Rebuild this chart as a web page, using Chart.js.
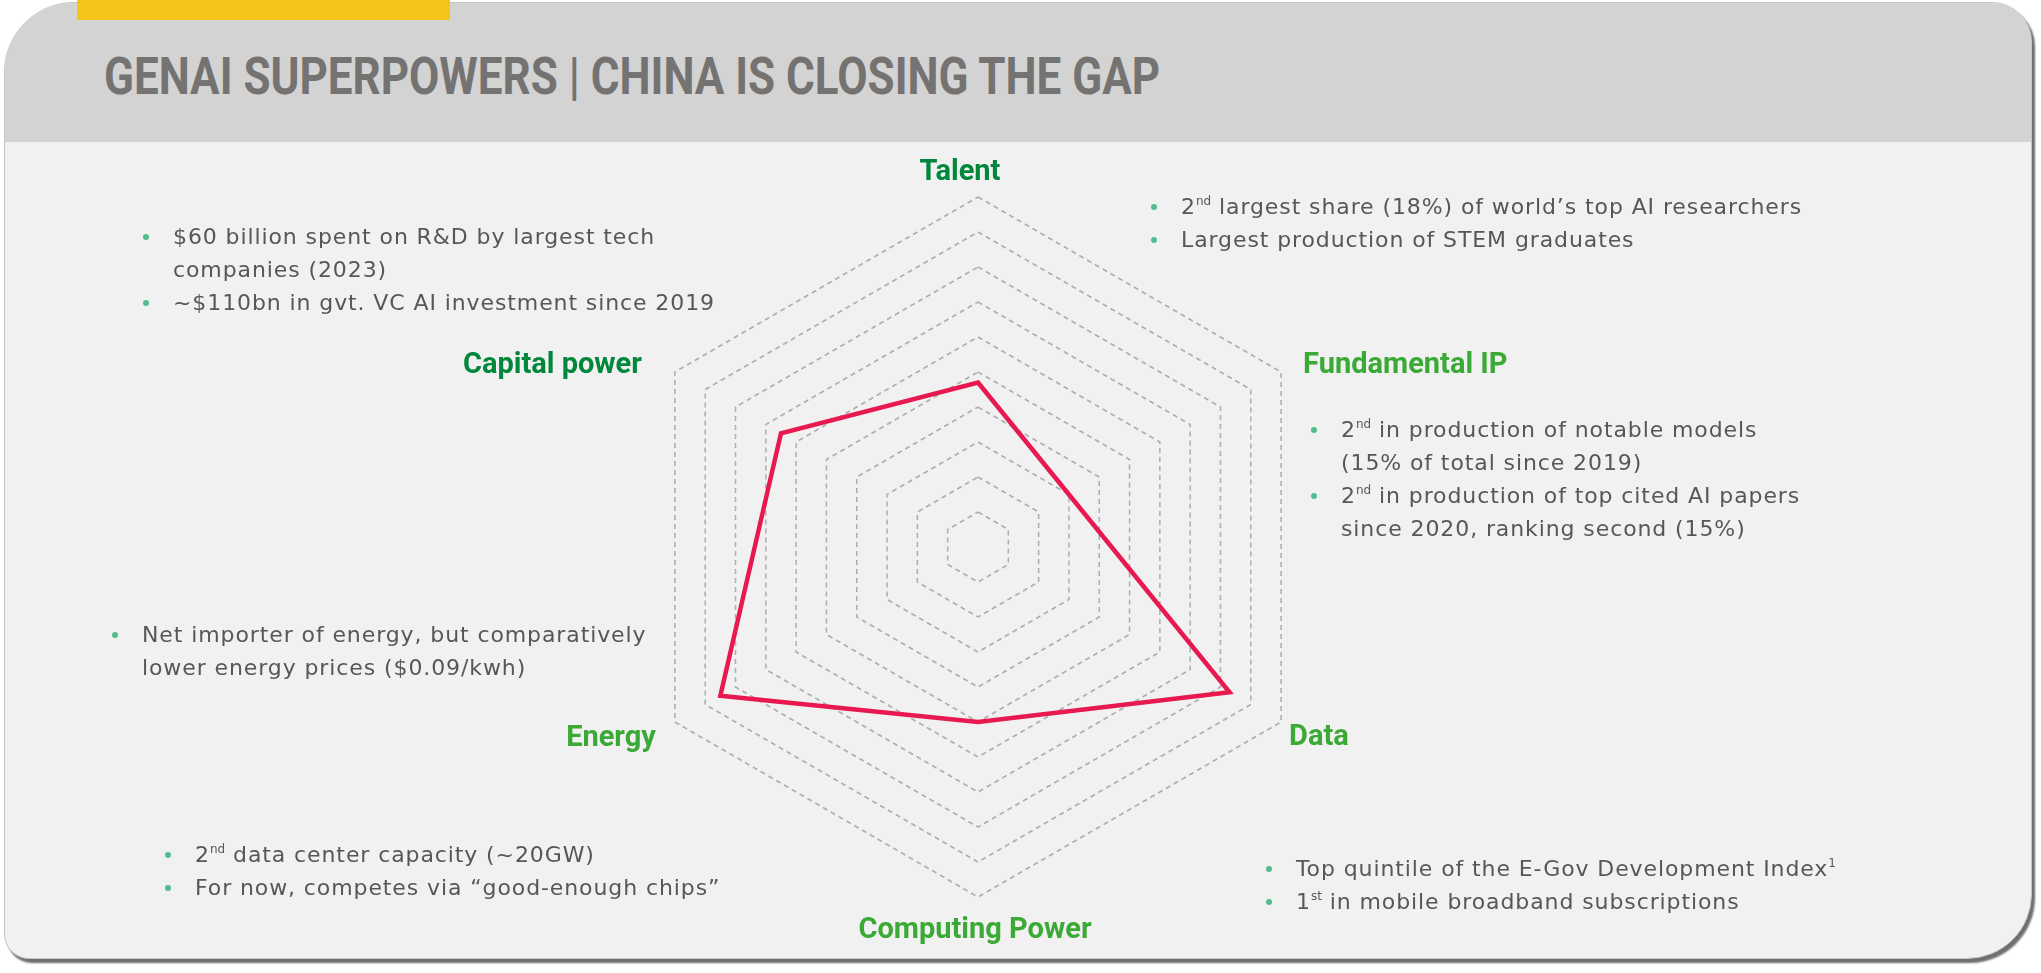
<!DOCTYPE html>
<html>
<head>
<meta charset="utf-8">
<title>GenAI superpowers</title>
<script src="https://cdn.jsdelivr.net/npm/chart.js@4.4.1/dist/chart.umd.min.js"></script>
<style>
    html, body { margin: 0; padding: 0; background: #ffffff; width: 2041px; height: 973px; overflow: hidden; }
    #panel {
        position: absolute; left: 4px; top: 2px; width: 2026px; height: 955px;
        background: #f1f1f1; border: 1px solid #c4c4c4;
        border-radius: 70px 40px 65px 25px;
        box-shadow: 3px 4px 2px #6f6f6f;
        overflow: hidden;
    }
    #header { position: absolute; left: 0; top: 0; width: 100%; height: 139px; background: #d3d3d3; }
    #yellow { position: absolute; left: 77px; top: 0; width: 373px; height: 20px; background: #f5c419; }
    #title {
        position: absolute; left: 99px; top: 48px; white-space: nowrap;
        font: 700 51px/51px Roboto, sans-serif; color: #747372;
        transform-origin: 0 50%;
    }
    #chart { position: absolute; left: 0; top: 0; }
    .note {
        position: absolute; font-family: "DejaVu Sans", sans-serif; font-size: 22px;
        letter-spacing: 0.9px; color: #575757; line-height: 33px; white-space: nowrap;
    }
    .note p { margin: 0; position: relative; }
    .note p::before {
        content: ""; position: absolute; left: -30px; top: 14px;
        width: 6px; height: 6px; border-radius: 50%; background: #52bd8c;
    }
    .note sup { font-size: 12px; line-height: 0; vertical-align: 9px; letter-spacing: 0; }
</style>
</head>
<body>
<div id="panel">
    <div id="header"></div>
    <div id="title">GENAI SUPERPOWERS | CHINA IS CLOSING THE GAP</div>
</div>
<div id="yellow"></div>

<canvas id="chart" width="2041" height="973"></canvas>

<!-- notes beside each axis -->
<div class="note" style="left:173px; top:220px;">
    <p>$60 billion spent on R&amp;D by largest tech<br>companies (2023)</p>
    <p>~$110bn in gvt. VC AI investment since 2019</p>
</div>
<div class="note" style="left:1181px; top:190px;">
    <p>2<sup>nd</sup> largest share (18%) of world’s top AI researchers</p>
    <p>Largest production of STEM graduates</p>
</div>
<div class="note" style="left:1341px; top:413px;">
    <p>2<sup>nd</sup> in production of notable models<br>(15% of total since 2019)</p>
    <p>2<sup>nd</sup> in production of top cited AI papers<br>since 2020, ranking second (15%)</p>
</div>
<div class="note" style="left:142px; top:618px;">
    <p>Net importer of energy, but comparatively<br>lower energy prices ($0.09/kwh)</p>
</div>
<div class="note" style="left:195px; top:838px;">
    <p>2<sup>nd</sup> data center capacity (~20GW)</p>
    <p>For now, competes via “good-enough chips”</p>
</div>
<div class="note" style="left:1296px; top:852px;">
    <p>Top quintile of the E-Gov Development Index<sup>1</sup></p>
    <p>1<sup>st</sup> in mobile broadband subscriptions</p>
</div>

<script>
// axes, clockwise from the top
const categories = ['Talent', 'Fundamental IP', 'Data', 'Computing Power', 'Energy', 'Capital power'];
// China score on each axis (0-10)
const chinaScores = [4.7, 3.0, 8.3, 5.0, 8.5, 6.5];
// rings of the grid
const ringTicks = [0, 1, 2, 3, 4, 5, 6, 7, 8, 9, 10];

// squeeze the title to the width it has in the slide
const title = document.getElementById('title');
title.style.transform = 'scaleX(' + (1056 / title.offsetWidth) + ')';

// axis names drawn next to the outer ring corners
const axisLabels = {
    id: 'axisLabels',
    afterDraw(chart, args, opts) {
        const scale = chart.scales.r;
        const ctx = chart.ctx;
        ctx.save();
        ctx.font = opts.font;
        ctx.textBaseline = 'alphabetic';
        categories.forEach((name, i) => {
            const p = scale.getPointPositionForValue(i, scale.max);
            const o = opts.place[i];
            ctx.fillStyle = opts.colors[i];
            ctx.textAlign = o.align;
            ctx.fillText(name, p.x + o.dx, p.y + o.dy);
        });
        ctx.restore();
    }
};

const ctx = document.getElementById('chart').getContext('2d');
const radar = new Chart(ctx, {
    type: 'radar',
    data: {
        labels: categories,
        datasets: [{
            label: 'China',
            data: chinaScores,
            fill: false,
            borderColor: '#e8194f',
            borderWidth: 4.5,
            pointRadius: 0,
            tension: 0
        }]
    },
    options: {
        responsive: false,
        animation: false,
        devicePixelRatio: 1,
        layout: { padding: { left: 628, right: 713, top: 197, bottom: 76 } },
        plugins: {
            legend: { display: false },
            tooltip: { enabled: false },
            axisLabels: {
                font: '700 29px Roboto',
                colors: ['#00873c', '#3aa935', '#3aa935', '#3aa935', '#3aa935', '#00873c'],
                place: [
                    { align: 'center', dx: -18, dy: -17 },
                    { align: 'left', dx: 22, dy: 1 },
                    { align: 'left', dx: 8, dy: 23 },
                    { align: 'center', dx: -3, dy: 41 },
                    { align: 'right', dx: -19, dy: 24 },
                    { align: 'right', dx: -33, dy: 1 }
                ]
            }
        },
        scales: {
            r: {
                min: ringTicks[0],
                max: ringTicks[ringTicks.length - 1],
                ticks: { display: false, stepSize: ringTicks[1] - ringTicks[0] },
                pointLabels: { display: false },
                angleLines: { display: false },
                grid: { color: '#adadad', lineWidth: 1.5 },
                border: { dash: [5, 4] }
            }
        }
    },
    plugins: [axisLabels]
});
</script>
</body>
</html>
